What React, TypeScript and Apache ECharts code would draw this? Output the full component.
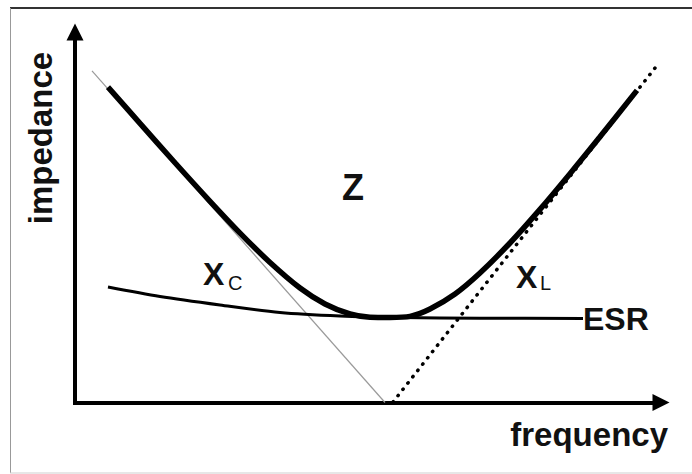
import React, { useEffect, useRef } from 'react';
import * as echarts from 'echarts';

// Impedance curve Z (frequency, impedance) — arbitrary units 0..100
const zFreq = [5.63, 11.09, 17.06, 23.04, 28.16, 33.28, 38.4, 42.66, 46.93, 50.34, 53.75, 57.17, 60.58, 64.85, 69.11, 74.23, 79.35, 84.47, 89.59, 95.9];
const zImp = [85.13, 75.33, 64.7, 54.3, 45.72, 37.79, 30.9, 26.59, 23.89, 23.0, 22.95, 23.25, 25.24, 29.28, 34.95, 43.05, 52.12, 61.75, 71.71, 84.24];

// ESR curve
const esrFreq = [5.63, 14.51, 24.74, 34.98, 45.22, 55.46, 69.11, 86.69];
const esrImp = [31.17, 28.61, 26.32, 24.29, 23.35, 22.94, 22.75, 22.67];

// Capacitive reactance Xc (thin straight line)
const xcFreq = [2.9, 52.9];
const xcImp = [89.5, 0];

// Inductive reactance XL (dotted straight line)
const xlFreq = [54.27, 98.98];
const xlImp = [0.13, 90.28];

const yTitle = 'impedance';
const xTitle = 'frequency';
const zLabel = 'Z';
const esrLabel = 'ESR';

const FONT = '"Liberation Sans", Arial, sans-serif';

const pair = (xs: number[], ys: number[]) => xs.map((x, i) => [x, ys[i]]);

export default function App() {
  const ref = useRef<HTMLDivElement>(null);
  useEffect(() => {
    if (!ref.current) return;
    const chart = echarts.init(ref.current, null, { renderer: 'svg' });
    const axisCommon = {
      type: 'value',
      min: 0,
      max: 100,
      axisTick: { show: false },
      axisLabel: { show: false },
      splitLine: { show: false },
      axisLine: {
        show: true,
        symbol: ['none', 'triangle'],
        symbolSize: [17, 17],
        lineStyle: { color: '#000', width: 4, cap: 'square' },
      },
    };
    const txt = (
      text: string,
      x: number,
      y: number,
      size: number,
      weight: string,
      align: string,
      extra: any = {}
    ) => ({
      type: 'text',
      x,
      y,
      z: 100,
      ...extra,
      style: {
        text,
        fontSize: size,
        fontWeight: weight,
        fontFamily: FONT,
        fill: '#111',
        align,
        verticalAlign: 'middle',
      },
    });
    chart.setOption({
      animation: false,
      backgroundColor: '#fff',
      grid: { left: 75, right: 31, top: 32, bottom: 71.5 },
      xAxis: { ...axisCommon },
      yAxis: { ...axisCommon },
      series: [
        {
          name: 'Xc',
          type: 'line',
          data: pair(xcFreq, xcImp),
          symbol: 'none',
          lineStyle: { color: '#9a9a9a', width: 1.2 },
          z: 2,
        },
        {
          name: 'XL',
          type: 'line',
          data: pair(xlFreq, xlImp),
          symbol: 'none',
          lineStyle: { color: '#000', width: 3.5, type: [0.5, 7.5], cap: 'round' },
          z: 3,
        },
        {
          name: 'ESR',
          type: 'line',
          data: pair(esrFreq, esrImp),
          symbol: 'none',
          smooth: 0.3,
          lineStyle: { color: '#000', width: 3 },
          z: 4,
        },
        {
          name: 'Z',
          type: 'line',
          data: pair(zFreq, zImp),
          symbol: 'none',
          smooth: 0.3,
          lineStyle: { color: '#000', width: 5.5 },
          z: 5,
        },
      ],
      graphic: [
        { type: 'line', shape: { x1: 10, y1: 8, x2: 692, y2: 8 }, style: { stroke: '#333', lineWidth: 2 } },
        { type: 'line', shape: { x1: 10.5, y1: 8, x2: 10.5, y2: 473 }, style: { stroke: '#999', lineWidth: 1 } },
        { type: 'line', shape: { x1: 10, y1: 473, x2: 692, y2: 473 }, style: { stroke: '#cfcfcf', lineWidth: 1 } },
        txt(yTitle, 40, 138, 33, 'bold', 'center', { rotation: Math.PI / 2 }),
        txt(xTitle, 668, 434, 33, 'bold', 'right'),
        txt(zLabel, 342, 187, 36, 'bold', 'left'),
        txt('X', 203, 274, 32, 'bold', 'left'),
        txt('C', 228, 283, 20, 'normal', 'left'),
        txt('X', 516, 277, 32, 'bold', 'left'),
        txt('L', 540, 283, 20, 'normal', 'left'),
        txt(esrLabel, 583, 319, 32, 'bold', 'left'),
      ],
    });
    return () => chart.dispose();
  }, []);
  return (
    <div
      ref={ref}
      style={{ position: 'absolute', left: 0, top: 0, width: 692, height: 474, background: '#fff' }}
    />
  );
}
